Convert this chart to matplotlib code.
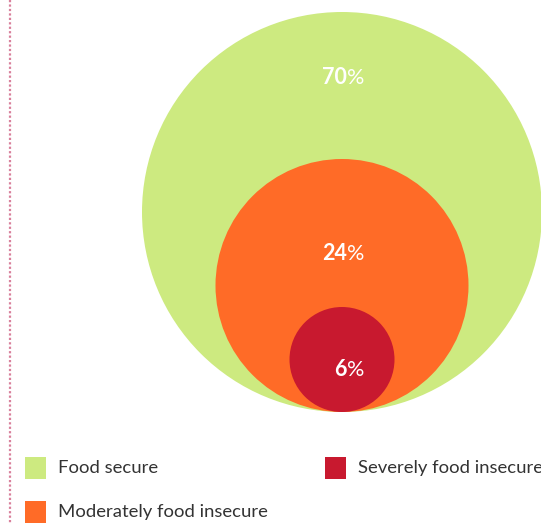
import matplotlib
matplotlib.use("Agg")
import matplotlib.pyplot as plt
from matplotlib.patches import Circle, Rectangle

plt.rcParams['font.family'] = ['Lato', 'DejaVu Sans']

# data
categories = ['Food secure', 'Moderately food insecure', 'Severely food insecure']
shares = [70, 24, 6]
colors = ['#cdea80', '#ff6b27', '#c8192f']

# layout (pixels, figure is 541x524)
radii = [200, 126.5, 52.5]
cx = 342
base_y = 412
label_y = [78, 254, 370]

fig = plt.figure(figsize=(5.41, 5.24), dpi=100)
ax = fig.add_axes([0, 0, 1, 1])
ax.set_xlim(0, 541)
ax.set_ylim(524, 0)
ax.axis('off')

# dotted vertical rule at left
ax.plot([10, 10], [0, 524], color='#d9809c', lw=1.6, ls=(0, (1, 1)))

for r, c in zip(radii, colors):
    ax.add_patch(Circle((cx, base_y - r), r, color=c, lw=0))

for s, y in zip(shares, label_y):
    ax.text(cx + 5, y, str(s), color='white', fontsize=15.5, fontweight='bold',
            ha='right', va='center')
    ax.text(cx + 5, y, '%', color='white', fontsize=15.5, fontweight='normal',
            ha='left', va='center')

# legend
legend_pos = [(25, 457), (25, 501), (325, 457)]
for (x, y), name, c in zip(legend_pos, categories, colors):
    ax.add_patch(Rectangle((x, y), 21, 22, color=c, lw=0))
    ax.text(x + 33, y + 11, name, color='#333333', fontsize=13.3,
            ha='left', va='center')

fig.savefig('out.png', dpi=100)
